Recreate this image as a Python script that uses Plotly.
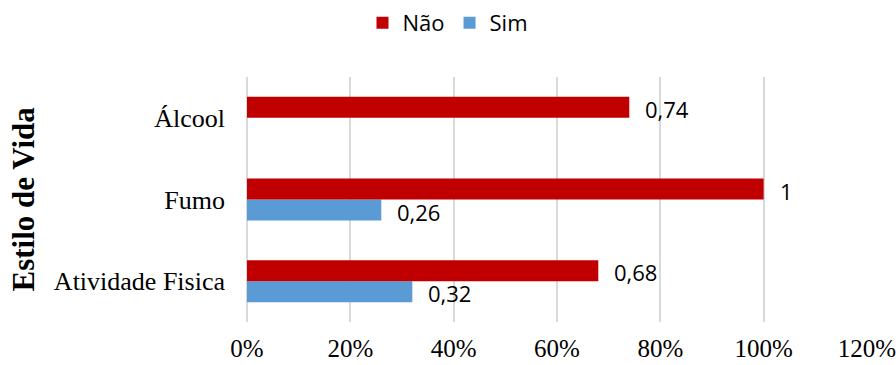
import plotly.graph_objects as go

# Lifestyle categories, listed bottom to top
categories = ["Atividade Fisica", "Fumo", "Álcool"]
nao_values = [0.68, 1, 0.74]
sim_values = [0.32, 0.26, None]
x_ticks = [0, 0.2, 0.4, 0.6, 0.8, 1.0, 1.2]

COLOR_NAO = "#C00000"
COLOR_SIM = "#5B9BD5"
SERIF = "Liberation Serif, Times New Roman, serif"
SANS = "Open Sans, Noto Sans, sans-serif"

fig = go.Figure()
# Sim first so that it sits below Não inside each group
fig.add_trace(go.Bar(name="Sim", y=categories, x=sim_values, orientation="h",
                     marker=dict(color=COLOR_SIM, line=dict(width=0))))
fig.add_trace(go.Bar(name="Não", y=categories, x=nao_values, orientation="h",
                     marker=dict(color=COLOR_NAO, line=dict(width=0))))


def fmt(v):
    s = f"{v:.2f}".rstrip("0").rstrip(".")
    return s.replace(".", ",")


annotations = []
for values, yshift in ((nao_values, 9), (sim_values, -12)):
    for cat, v in zip(categories, values):
        if v is None:
            continue
        annotations.append(dict(
            x=v, y=cat, xref="x", yref="y", text=fmt(v), showarrow=False,
            xanchor="left", yanchor="middle", xshift=14, yshift=yshift,
            font=dict(family=SANS, size=22, color="#000000")))

annotations.append(dict(
    text="<b>Estilo de Vida</b>", textangle=-90, showarrow=False,
    xref="paper", yref="paper", x=0, y=0.5, xanchor="center", yanchor="middle",
    xshift=-224, font=dict(family=SERIF, size=31, color="#000000")))

fig.update_layout(
    width=896, height=365,
    margin=dict(l=247, r=29, t=77, b=43),
    paper_bgcolor="white", plot_bgcolor="white",
    barmode="group", bargap=0.486, bargroupgap=0,
    separators=",.",
    showlegend=True,
    legend=dict(orientation="h", traceorder="reversed",
                xref="container", yref="container",
                x=0.5, y=1 - 23 / 365, xanchor="center", yanchor="middle",
                font=dict(family=SANS, size=22, color="#000000"),
                itemwidth=30, bgcolor="rgba(0,0,0,0)"),
    annotations=annotations,
    xaxis=dict(range=[0, 1.2001], tickvals=x_ticks, tickformat=".0%",
               automargin=False, ticklabeloverflow="allow",
               showgrid=True, gridcolor="#D9D9D9", gridwidth=2,
               zeroline=True, zerolinecolor="#D9D9D9", zerolinewidth=2,
               showline=False, ticks="", ticklabelstandoff=9,
               tickfont=dict(family=SERIF, size=25, color="#000000")),
    yaxis=dict(categoryorder="array", categoryarray=categories,
               automargin=False,
               showgrid=False, zeroline=False, showline=False, ticks="",
               ticklabelstandoff=21,
               tickfont=dict(family=SERIF, size=26, color="#000000")),
)

fig.write_html("out.html")
